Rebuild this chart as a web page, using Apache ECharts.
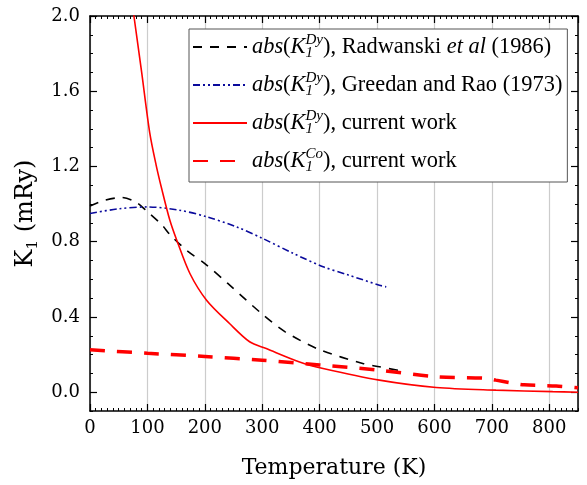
<!DOCTYPE html>
<html><head><meta charset="utf-8">
<script src="https://cdn.jsdelivr.net/npm/echarts@6/dist/echarts.min.js"></script>
<style>html,body{margin:0;padding:0;background:#fff}#c{width:587px;height:485px}</style>
</head><body><div id="c"></div>
<script>
// ---- data ----
const radT = [0, 25, 55, 80, 100, 125, 140, 170, 200, 240, 300, 340, 400, 475, 504, 542];
const radK = [0.99, 1.02, 1.035, 1.01, 0.96, 0.89, 0.835, 0.75, 0.684, 0.578, 0.415, 0.321, 0.226, 0.153, 0.135, 0.113];

const greT = [0, 50, 100, 155, 203, 255, 301, 354, 406, 450, 504, 516];
const greK = [0.95, 0.975, 0.985, 0.968, 0.933, 0.879, 0.817, 0.738, 0.667, 0.623, 0.569, 0.56];

const dyT = [70, 76.5, 90, 104, 115, 125, 139, 151, 174, 203, 243, 278, 307, 365, 406, 504, 603, 707, 806, 850];
const dyK = [2.15, 2.0, 1.70, 1.38, 1.21, 1.08, 0.915, 0.809, 0.631, 0.489, 0.365, 0.268, 0.232, 0.161, 0.126, 0.064, 0.025, 0.011, 0.003, 0.0];

const coT = [0, 100, 200, 300, 400, 500, 600, 690, 707, 733, 756, 812, 850];
const coK = [0.225, 0.207, 0.19, 0.17, 0.145, 0.118, 0.083, 0.074, 0.064, 0.05, 0.039, 0.033, 0.023];

const xMajorTicks = [0, 100, 200, 300, 400, 500, 600, 700, 800];
const yMajorTicks = [0.0, 0.4, 0.8, 1.2, 1.6, 2.0];

const seriesNames = ['rad', 'gre', 'dy', 'co'];
const legendLabels = {
  rad: '{i|abs}{n|(}{i|K}{sub|1}{sup|Dy}{n|), Radwanski }{i|et al}{n| (1986)}',
  gre: '{i|abs}{n|(}{i|K}{sub|1}{sup|Dy}{n|), Greedan and Rao (1973)}',
  dy:  '{i|abs}{n|(}{i|K}{sub|1}{sup|Dy}{n|), current work}',
  co:  '{i|abs}{n|(}{i|K}{sub|1}{sup|Co}{n|), current work}'
};
const xTitle = 'Temperature (K)';
const yTitle = '{a|K}{s|1}{a| (mRy)}';

const zip = (a, b) => a.map((v, i) => [v, b[i]]);

const serif = 'DejaVu Serif';
const tnr = 'Liberation Serif';
const XMIN = 0, XMAX = 850, YMIN = -0.1, YMAX = 2.0;

function xAx(pos, interval, opts) {
  return Object.assign({
    type: 'value', position: pos, min: XMIN, max: XMAX, interval: interval,
    axisLine: { show: true, onZero: false, lineStyle: { color: '#000', width: 1.5 } },
    axisTick: { show: true, inside: true, length: 3, lineStyle: { color: '#000', width: 1 } },
    axisLabel: { show: false },
    splitLine: { show: false }
  }, opts);
}
function yAx(pos, interval, opts) {
  return Object.assign({
    type: 'value', position: pos, min: YMIN, max: YMAX, interval: interval,
    axisLine: { show: true, onZero: false, lineStyle: { color: '#000', width: 1.5 } },
    axisTick: { show: true, inside: true, length: 3, lineStyle: { color: '#000', width: 1 } },
    axisLabel: { show: false },
    splitLine: { show: false }
  }, opts);
}

const option = {
  animation: false,
  backgroundColor: '#fff',
  grid: { left: 90, right: 9, top: 16, bottom: 74, containLabel: false },
  xAxis: [
    xAx('bottom', 10, {}),
    xAx('bottom', 100, {
      axisLine: { show: false, onZero: false },
      axisTick: { show: true, inside: true, length: 7, lineStyle: { color: '#000', width: 1.2 } },
      axisLabel: { show: true, showMaxLabel: false, color: '#000', fontFamily: serif, fontSize: 18, margin: 8 },
      splitLine: { show: true, lineStyle: { color: '#cccccc', width: 1.2 } },
      name: xTitle, nameLocation: 'middle', nameGap: 46,
      nameTextStyle: { color: '#000', fontFamily: serif, fontSize: 22 }
    }),
    xAx('top', 10, {}),
    xAx('top', 100, {
      axisLine: { show: false, onZero: false },
      axisTick: { show: true, inside: true, length: 7, lineStyle: { color: '#000', width: 1.2 } }
    })
  ],
  yAxis: [
    yAx('left', 0.1, {}),
    yAx('left', 0.1, {
      axisLine: { show: false, onZero: false },
      axisTick: { show: true, inside: true, length: 7, customValues: yMajorTicks, lineStyle: { color: '#000', width: 1.2 } },
      axisLabel: { show: true, customValues: yMajorTicks, color: '#000', fontFamily: serif, fontSize: 18, margin: 10,
        formatter: v => Number(v).toFixed(1) },
      name: yTitle, nameLocation: 'middle', nameGap: 46, nameRotate: 90,
      nameTextStyle: { color: '#000', rich: {
        a: { fontFamily: serif, fontSize: 24, lineHeight: 30, color: '#000' },
        s: { fontFamily: serif, fontSize: 15, lineHeight: 15, verticalAlign: 'bottom', color: '#000' }
      } }
    }),
    yAx('right', 0.1, {}),
    yAx('right', 0.1, {
      axisLine: { show: false, onZero: false },
      axisTick: { show: true, inside: true, length: 7, customValues: yMajorTicks, lineStyle: { color: '#000', width: 1.2 } }
    })
  ],
  legend: {
    orient: 'vertical', left: 189, top: 29,
    padding: [4, 5, 7, 3],
    itemWidth: 54, itemHeight: 14, itemGap: 10,
    backgroundColor: '#fff', borderColor: '#555', borderWidth: 1,
    itemStyle: { color: 'rgba(0,0,0,0)', borderColor: 'rgba(0,0,0,0)', borderWidth: 0, opacity: 0 },
    data: seriesNames,
    formatter: name => legendLabels[name],
    textStyle: {
      color: '#000', fontFamily: tnr, fontSize: 22.4,
      rich: {
        i: { fontFamily: tnr, fontStyle: 'italic', fontSize: 22.4, lineHeight: 28, color: '#000' },
        n: { fontFamily: tnr, fontSize: 22.4, lineHeight: 28, color: '#000' },
        sup: { fontFamily: tnr, fontStyle: 'italic', fontSize: 15, lineHeight: 18, verticalAlign: 'top', color: '#000' },
        sub: { fontFamily: tnr, fontStyle: 'italic', fontSize: 15, lineHeight: 15, verticalAlign: 'bottom', width: 0, color: '#000' }
      }
    }
  },
  series: [
    { name: 'rad', type: 'line', data: zip(radT, radK), symbol: 'none', smooth: 0.3,
      lineStyle: { color: '#000', width: 1.6, type: [9, 8] }, itemStyle: { color: '#000' }, z: 3 },
    { name: 'gre', type: 'line', data: zip(greT, greK), symbol: 'none', smooth: 0.3,
      lineStyle: { color: '#0a0a9c', width: 1.6, type: [7, 3, 2, 3, 2, 3] }, itemStyle: { color: '#0a0a9c' }, z: 3 },
    { name: 'dy', type: 'line', data: zip(dyT, dyK), symbol: 'none', smooth: 0.3,
      lineStyle: { color: '#ff0000', width: 1.6, type: 'solid' }, itemStyle: { color: '#ff0000' }, z: 4 },
    { name: 'co', type: 'line', data: zip(coT, coK), symbol: 'none', smooth: 0.3,
      lineStyle: { color: '#ff0000', width: 3.5, type: [15, 12] }, itemStyle: { color: '#ff0000' }, z: 3 }
  ]
};

const chart = echarts.init(document.getElementById('c'), null, { renderer: 'canvas' });
chart.setOption(option);
</script>
</body></html>
